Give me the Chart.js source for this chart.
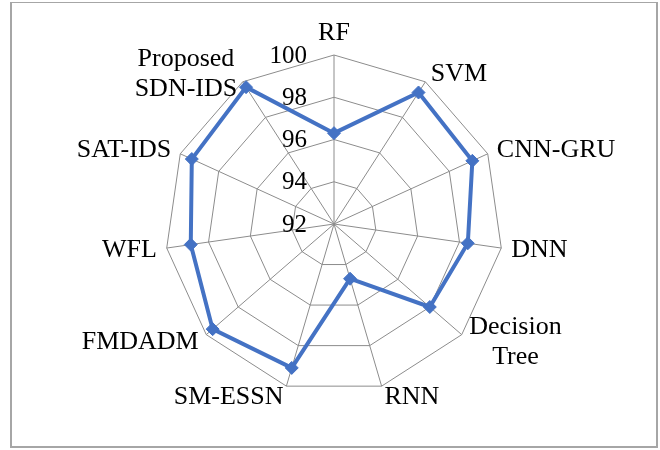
<!DOCTYPE html>
<html>
<head>
<meta charset="utf-8">
<script src="https://cdn.jsdelivr.net/npm/chart.js@4.4.1/dist/chart.umd.min.js"></script>
<style>
  html, body { margin: 0; padding: 0; background: #fff; }
  #wrap { position: relative; width: 660px; height: 450px; }
  #frame { position: absolute; left: 10px; top: 2px; width: 644px; height: 443px;
           border: 2px solid #a6a6a6; border-top-width: 1px; }
  canvas { position: absolute; left: 0; top: 0; }
</style>
</head>
<body>
<div id="wrap">
  <div id="frame"></div>
  <canvas id="radar" width="660" height="450"></canvas>
</div>
<script>
// Detection accuracy (%) per model
const categories = ['RF', 'SVM', 'CNN-GRU', 'DNN', ['Decision', 'Tree'], 'RNN',
                    'SM-ESSN', 'FMDADM', 'WFL', 'SAT-IDS', ['Proposed', 'SDN-IDS']];
const accuracy = [96.3, 99.4, 99.2, 98.4, 98.0, 94.7, 99.1, 99.6, 98.85, 99.4, 99.7];
const tickValues = [92, 94, 96, 98, 100];

const FONT_FAMILY = "'Liberation Serif', 'Times New Roman', serif";
const FONT_SIZE = 26;
const LINE_HEIGHT = 30;

// Draws the ring values beside the first spoke and the model names around the web
const axisText = {
  id: 'axisText',
  afterDraw(chart) {
    const s = chart.scales.r;
    const ctx = chart.ctx;
    ctx.save();
    ctx.fillStyle = '#000';

    ctx.font = '25px ' + FONT_FAMILY;
    ctx.textAlign = 'right';
    ctx.textBaseline = 'middle';
    s.ticks.forEach(t => {
      const p = s.getPointPosition(0, s.getDistanceFromCenterForValue(t.value));
      ctx.fillText(String(t.value), p.x - 27, p.y + 1);
    });

    ctx.font = FONT_SIZE + 'px ' + FONT_FAMILY;
    ctx.textAlign = 'center';
    categories.forEach((c, i) => {
      const lines = Array.isArray(c) ? c : [c];
      const a = s.getIndexAngle(i);
      const sin = Math.sin(a);
      const p = s.getPointPosition(i, s.drawingArea + 10);
      const w = Math.max(...lines.map(t => ctx.measureText(t).width));
      let cx = p.x, cy = p.y;
      if (Math.abs(sin) < 0.1) {
        cy = p.y - 13;
      } else {
        cx = sin > 0 ? p.x + w / 2 : p.x - w / 2;
      }
      lines.forEach((t, j) => {
        ctx.fillText(t, cx, cy + (j - (lines.length - 1) / 2) * LINE_HEIGHT + 1);
      });
    });
    ctx.restore();
  }
};

new Chart(document.getElementById('radar'), {
  type: 'radar',
  data: {
    labels: categories,
    datasets: [{
      data: accuracy,
      borderColor: '#4472C4',
      borderWidth: 4,
      backgroundColor: '#4472C4',
      fill: false,
      tension: 0,
      pointStyle: 'rectRot',
      pointRadius: 6.5,
      pointBorderWidth: 1,
      pointBackgroundColor: '#4472C4',
      pointBorderColor: '#4472C4'
    }]
  },
  options: {
    responsive: false,
    animation: false,
    layout: { padding: { left: 9, right: 0, top: 55, bottom: 56 } },
    plugins: { legend: { display: false }, tooltip: { enabled: false } },
    scales: {
      r: {
        min: 92,
        max: 100,
        ticks: { display: false, stepSize: 2 },
        afterBuildTicks: sc => { sc.ticks = tickValues.map(v => ({ value: v })); },
        grid: { color: '#8c8c8c', lineWidth: 1 },
        angleLines: { color: '#8c8c8c', lineWidth: 1 },
        pointLabels: { display: false }
      }
    }
  },
  plugins: [axisText]
});
</script>
</body>
</html>
